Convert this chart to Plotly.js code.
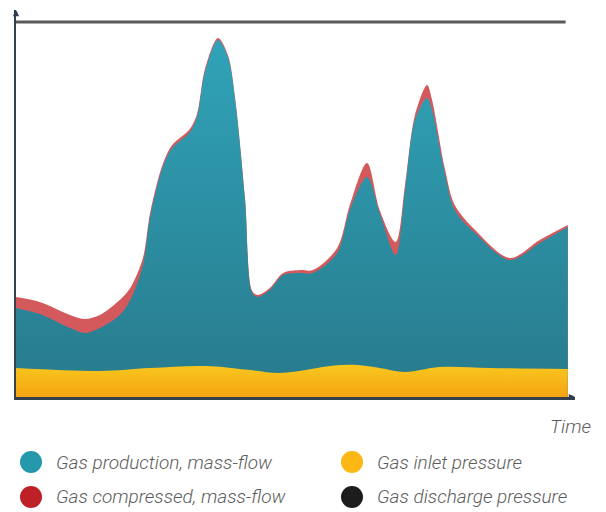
<!DOCTYPE html>
<html>
<head>
<meta charset="utf-8">
<script src="https://cdn.plot.ly/plotly-3.0.1.min.js"></script>
<style>
html,body{margin:0;padding:0;background:#fff;}
#chart{width:606px;height:512px;}
</style>
</head>
<body>
<div id="chart"></div>
<script>
// Time axis (arbitrary units)
const prodTime = [0, 4.3, 9.8, 12.5, 15.2, 18.8, 20.7, 23, 24.3, 26.6, 28.3, 31.5, 32.8, 34.2, 36.6, 38.4, 39.7, 41.5, 42.8, 43.8, 46, 48.4, 51.4, 53.8, 58.2, 60.5, 63.6, 65.9, 68.8, 70.5, 72.3, 74.5, 75.4, 77.7, 79.5, 83.2, 89.5, 94.9, 100];
const gasProduction = [89, 83, 69, 64, 69, 82, 97, 132, 180, 230, 249, 265, 280, 324, 357, 340, 297, 197, 104, 100, 107, 122, 124, 124, 144, 187, 220, 184, 142, 207, 277, 299, 287, 224, 187, 164, 137, 154, 170];
const gasCompressed = [100, 95, 82, 78, 82, 97, 109, 139, 184, 233, 252, 268, 283, 327, 359, 342, 299, 199, 106, 102, 109, 124, 127, 127, 149, 192, 234, 187, 155, 212, 282, 312, 297, 229, 192, 167, 139, 157, 172];
const inletTime = [0, 15.2, 24.3, 34.2, 42.4, 47.5, 51.4, 56.9, 61.8, 65.9, 70.5, 76.8, 85.9, 100];
const gasInlet = [29, 26, 29, 31, 27, 24, 26, 31, 32, 29, 25, 30, 29, 28];
const dischargeTime = [0, 99.6];
const gasDischarge = [375, 375];

const seriesNames = ["Gas production, mass-flow", "Gas compressed, mass-flow", "Gas inlet pressure", "Gas discharge pressure"];
const seriesColors = ["#2599ab", "#bd2026", "#fbb714", "#1c1c1c"];
const axisLabel = "Time";

const traces = [
  {x: prodTime, y: gasCompressed, type: "scatter", mode: "lines", fill: "tozeroy",
   line: {shape: "spline", smoothing: 0.9, width: 0, color: "rgba(0,0,0,0)"}, fillcolor: "#d4595c", hoverinfo: "skip"},
  {x: prodTime, y: gasProduction, type: "scatter", mode: "lines", fill: "tozeroy",
   line: {shape: "spline", smoothing: 0.9, width: 0, color: "rgba(0,0,0,0)"},
   fillgradient: {type: "vertical", colorscale: [[0, "#287a8c"], [1, "#30a3b8"]]}, hoverinfo: "skip"},
  {x: inletTime, y: gasInlet, type: "scatter", mode: "lines", fill: "tozeroy",
   line: {shape: "spline", smoothing: 1, width: 0, color: "rgba(0,0,0,0)"},
   fillgradient: {type: "vertical", colorscale: [[0, "#f4a412"], [1, "#f9c71e"]]}, hoverinfo: "skip"},
  {x: dischargeTime, y: gasDischarge, type: "scatter", mode: "lines",
   line: {color: "#5a5a5a", width: 2.8}, hoverinfo: "skip"}
];

const W = 606, H = 512;
const L = 16, R = 31, T = 10, B = 115;
const pw = W - L - R, ph = H - T - B;
function px2paperX(px) { return (px - L) / pw; }
function py2paperY(py) { return (H - B - py) / ph; }

const textFont = {family: "Roboto, sans-serif", size: 19, color: "#5c5c5c", style: "italic", weight: 300};
const legendPos = [[31, 462], [31, 497], [352, 462], [352, 497]];
const shapes = [];
const annotations = [];
for (let i = 0; i < 4; i++) {
  const cx = legendPos[i][0], cy = legendPos[i][1];
  shapes.push({type: "circle", xref: "paper", yref: "paper", xsizemode: "pixel", ysizemode: "pixel",
    xanchor: px2paperX(cx), yanchor: py2paperY(cy), x0: -11, x1: 11, y0: -11, y1: 11,
    line: {width: 0}, fillcolor: seriesColors[i]});
  annotations.push({text: seriesNames[i], xref: "paper", yref: "paper",
    x: px2paperX(cx + 23), y: py2paperY(cy),
    showarrow: false, xanchor: "left", yanchor: "middle", font: textFont});
}
annotations.push({text: axisLabel, xref: "paper", yref: "paper", x: px2paperX(593), y: py2paperY(426),
  xanchor: "right", yanchor: "middle", showarrow: false, font: textFont});
// small axis arrow tips
annotations.push({text: "", xref: "paper", yref: "paper", x: 1.0, y: 0, ax: -6, ay: 0,
  showarrow: true, arrowhead: 2, arrowsize: 0.5, arrowwidth: 2.5, arrowcolor: "#2f3b4c"});
annotations.push({text: "", xref: "paper", yref: "paper", x: 0, y: 1.0, ax: 0, ay: 6,
  showarrow: true, arrowhead: 2, arrowsize: 0.5, arrowwidth: 2.5, arrowcolor: "#2f3b4c"});

const layout = {
  width: W, height: H,
  margin: {l: L, r: R, t: T, b: B, pad: 0},
  paper_bgcolor: "#fff", plot_bgcolor: "#fff",
  showlegend: false,
  xaxis: {range: [0, 101.3], showgrid: false, zeroline: false, showticklabels: false, ticks: "",
    showline: true, linecolor: "#35404f", linewidth: 2.5},
  yaxis: {range: [0, 387], showgrid: false, zeroline: false, showticklabels: false, ticks: "",
    showline: true, linecolor: "#35404f", linewidth: 2.5},
  shapes: shapes,
  annotations: annotations
};

Plotly.newPlot("chart", traces, layout, {displayModeBar: false, staticPlot: true});
</script>
</body>
</html>
